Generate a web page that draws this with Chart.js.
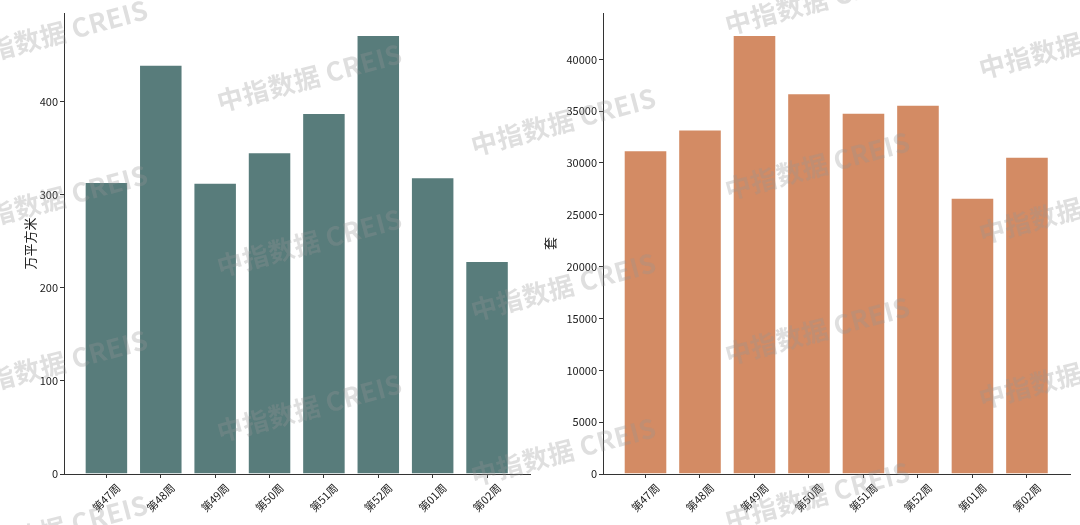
<!DOCTYPE html>
<html>
<head>
<meta charset="utf-8">
<script src="https://cdn.jsdelivr.net/npm/chart.js@4.4.1/dist/chart.umd.min.js"></script>
<style>
  html, body { margin: 0; padding: 0; background: #fff; }
  #wrap { position: relative; width: 1080px; height: 525px; overflow: hidden; }
  .box { position: absolute; top: 0; width: 540px; height: 525px; }
  #wm { position: absolute; left: 0; top: 0; width: 1080px; height: 525px; pointer-events: none; }
  .wm { position: absolute; white-space: nowrap; font-family: "Noto Sans CJK SC", sans-serif; font-weight: bold;
        font-size: 26px; letter-spacing: 0.5px; color: rgba(150,150,150,0.30); transform: translate(-50%, -50%) rotate(-15deg); }
</style>
</head>
<body>
<div id="wrap">
  <div class="box" style="left:0"><canvas id="c1" width="540" height="525"></canvas></div>
  <div class="box" style="left:540px"><canvas id="c2" width="540" height="525"></canvas></div>
  <div id="wm"></div>
</div>
<script>
const categories = ["第47周", "第48周", "第49周", "第50周", "第51周", "第52周", "第01周", "第02周"];
const areaValues = [314, 440, 313, 346, 388, 472, 319, 229];        // 万平方米
const unitValues = [31230, 33230, 42350, 36720, 34840, 35610, 26650, 30600]; // 套
const areaTicks = [0, 100, 200, 300, 400];
const unitTicks = [0, 5000, 10000, 15000, 20000, 25000, 30000, 35000, 40000];
const watermarkText = "中指数据 CREIS";

const FONT = '"Noto Sans CJK SC", "Noto Sans", sans-serif';

function makeChart(id, values, color, yTitle, yTickList, padLeft, yWidth, titlePad) {
  const ymax = Math.max(...values) * 1.05;
  return new Chart(document.getElementById(id), {
    type: 'bar',
    data: {
      datasets: [{
        data: values.map((v, i) => ({ x: i, y: v })),
        backgroundColor: color,
        borderColor: 'rgba(255,255,255,0.55)',
        borderWidth: 1,
        barPercentage: 0.8,
        categoryPercentage: 1.0
      }]
    },
    options: {
      responsive: false,
      animation: false,
      layout: { padding: { left: padLeft, right: 10, top: 13, bottom: 0 } },
      plugins: { legend: { display: false }, tooltip: { enabled: false } },
      scales: {
        x: {
          type: 'linear',
          offset: false,
          min: -0.78,
          max: 7.79,
          afterFit: s => { s.height = 51; },
          afterBuildTicks: s => { s.ticks = categories.map((c, i) => ({ value: i })); },
          ticks: {
            autoSkip: false,
            minRotation: 45,
            maxRotation: 45,
            labelOffset: 12,
            padding: 3,
            color: '#1a1a1a',
            font: { family: FONT, size: 11 },
            callback: v => categories[v] ?? ''
          },
          grid: { offset: false, drawOnChartArea: false, drawTicks: true, tickLength: 4, color: '#333' },
          border: { display: true, color: '#333', width: 1 }
        },
        y: {
          min: 0,
          max: ymax,
          afterFit: s => { s.width = yWidth; },
          afterBuildTicks: s => { s.ticks = yTickList.map(v => ({ value: v })); },
          ticks: {
            padding: 2,
            color: '#1a1a1a',
            font: { family: FONT, size: 11 },
            callback: v => String(v)
          },
          grid: { drawOnChartArea: false, drawTicks: true, tickLength: 4, color: '#333' },
          border: { display: true, color: '#333', width: 1 },
          title: {
            display: true,
            text: yTitle,
            color: '#1a1a1a',
            font: { family: FONT, size: 13 },
            padding: { top: titlePad, bottom: 0 }
          }
        }
      }
    }
  });
}

makeChart('c1', areaValues, '#587c7b', '万平方米', areaTicks, 18, 46, 4);
makeChart('c2', unitValues, '#d38b64', '套', unitTicks, 0, 63, 2);

// watermark tiling
const wm = document.getElementById('wm');
for (let c = 0; c < 5; c++) {
  const cx = 55 + 254 * c;
  let y0 = (32 + 44 * c) % 165;
  for (let y = y0 - 165; y < 525 + 165; y += 165) {
    const d = document.createElement('div');
    d.className = 'wm';
    d.textContent = watermarkText;
    d.style.left = cx + 'px';
    d.style.top = y + 'px';
    wm.appendChild(d);
  }
}
</script>
</body>
</html>
